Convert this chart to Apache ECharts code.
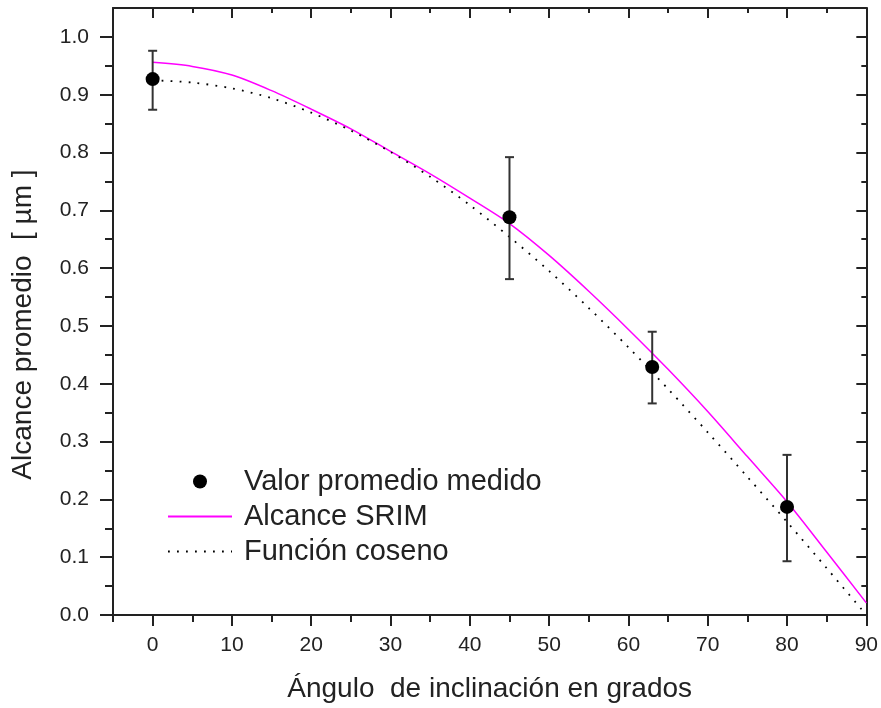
<!DOCTYPE html>
<html>
<head>
<meta charset="utf-8">
<script src="https://cdn.jsdelivr.net/npm/echarts@6/dist/echarts.min.js"></script>
<style>html,body{margin:0;padding:0;background:#fff;}#c{width:881px;height:708px;}</style>
</head>
<body>
<div id="c"></div>
<script>
// ---- data ----
const angles = [0, 45, 63, 80];
const measured = [0.927, 0.688, 0.429, 0.187];
const errLow = [0.874, 0.581, 0.366, 0.093];
const errHigh = [0.976, 0.792, 0.490, 0.277];

const curveAngles = [0, 5, 10, 15, 20, 25, 30, 35, 40, 45, 50, 55, 60, 65, 70, 75, 80, 85, 90];
const srim = [0.956, 0.949, 0.934, 0.907, 0.875, 0.841, 0.802, 0.763, 0.721, 0.677, 0.622, 0.560, 0.494, 0.425, 0.352, 0.274, 0.196, 0.109, 0.021];
const coseno = [0.925, 0.921, 0.911, 0.894, 0.869, 0.838, 0.801, 0.758, 0.709, 0.654, 0.595, 0.531, 0.463, 0.391, 0.316, 0.239, 0.161, 0.081, 0.0];

const xMajor = [0, 10, 20, 30, 40, 50, 60, 70, 80, 90];
const xMinor = [-5, 5, 15, 25, 35, 45, 55, 65, 75, 85];
const yMajor = [0, 0.1, 0.2, 0.3, 0.4, 0.5, 0.6, 0.7, 0.8, 0.9, 1.0];
const yMinor = [0.05, 0.15, 0.25, 0.35, 0.45, 0.55, 0.65, 0.75, 0.85, 0.95];

const names = ['Valor promedio medido', 'Alcance SRIM', 'Función coseno'];
const xTitle = 'Ángulo  de inclinación en grados';
const yTitle = 'Alcance promedio  [ µm ]';

// ---- chart ----
const AX = '#222';
const FONT = '"Liberation Sans", Arial, sans-serif';
const chart = echarts.init(document.getElementById('c'), null, {renderer: 'canvas'});

function xAx(pos, vals, len, inside, showLine, showLabel, name) {
  return {
    type: 'value', position: pos, min: -5, max: 90,
    name: name || '', nameLocation: 'middle', nameGap: 60, nameMoveOverlap: false,
    nameTextStyle: {fontFamily: FONT, fontSize: 28, color: AX},
    axisLine: {show: showLine, onZero: false, lineStyle: {color: AX, width: 2}},
    axisTick: {show: true, customValues: vals, length: len, inside: inside, lineStyle: {color: AX, width: 2}},
    axisLabel: {show: showLabel, customValues: vals, margin: 20, fontFamily: FONT, fontSize: 21, color: AX},
    splitLine: {show: false}
  };
}
function yAx(pos, vals, len, inside, showLine, showLabel, name) {
  return {
    type: 'value', position: pos, min: 0, max: 1.05,
    name: name || '', nameLocation: 'middle', nameGap: 76, nameMoveOverlap: false,
    nameTextStyle: {fontFamily: FONT, fontSize: 28, color: AX, padding: [0, 26, 0, 0]},
    axisLine: {show: showLine, onZero: false, lineStyle: {color: AX, width: 2}},
    axisTick: {show: true, customValues: vals, length: len, inside: inside, lineStyle: {color: AX, width: 2}},
    axisLabel: {show: showLabel, customValues: vals, margin: 24, fontFamily: FONT, fontSize: 21, color: AX,
      formatter: v => v.toFixed(1)},
    splitLine: {show: false}
  };
}

const option = {
  backgroundColor: '#fff',
  animation: false,
  grid: {left: 113, top: 8, width: 754, height: 608, containLabel: false},
  xAxis: [
    xAx('bottom', xMajor, 11, false, true, true, xTitle),
    xAx('bottom', xMinor, 7, false, false, false),
    xAx('top', xMajor, 10, true, true, false),
    xAx('top', xMinor, 5, true, false, false)
  ],
  yAxis: [
    yAx('left', yMajor, 13, false, true, true, yTitle),
    yAx('left', yMinor, 8, false, false, false),
    yAx('right', yMajor, 10, true, true, false),
    yAx('right', yMinor, 5, true, false, false)
  ],
  legend: {
    orient: 'vertical', left: 162, top: 462,
    itemWidth: 64, itemHeight: 14, itemGap: 6,
    data: [
      {name: names[0]},
      {name: names[1], itemStyle: {opacity: 0}},
      {name: names[2], itemStyle: {opacity: 0}}
    ],
    textStyle: {fontFamily: FONT, fontSize: 29, color: AX, padding: [0, 0, 0, 7]}
  },
  series: [
    {
      name: 'errbars', type: 'custom', xAxisIndex: 0, yAxisIndex: 0, z: 3,
      data: angles.map((a, i) => [a, errLow[i], errHigh[i]]),
      renderItem: function (params, api) {
        const lo = api.coord([api.value(0), api.value(1)]);
        const hi = api.coord([api.value(0), api.value(2)]);
        const cap = 4.5;
        const st = {stroke: '#333', lineWidth: 2};
        return {type: 'group', children: [
          {type: 'line', shape: {x1: lo[0], y1: lo[1], x2: hi[0], y2: hi[1]}, style: st},
          {type: 'line', shape: {x1: lo[0] - cap, y1: lo[1], x2: lo[0] + cap, y2: lo[1]}, style: st},
          {type: 'line', shape: {x1: hi[0] - cap, y1: hi[1], x2: hi[0] + cap, y2: hi[1]}, style: st}
        ]};
      }
    },
    {
      name: names[1], type: 'line', smooth: 0.3, symbol: 'none', z: 2,
      data: curveAngles.map((a, i) => [a, srim[i]]),
      lineStyle: {color: '#ff00ff', width: 1.5},
      itemStyle: {color: '#ff00ff'}
    },
    {
      name: names[2], type: 'line', smooth: 0.3, symbol: 'none', z: 2,
      data: curveAngles.map((a, i) => [a, coseno[i]]),
      lineStyle: {color: '#000', width: 1.8, type: [1.8, 7.2]},
      itemStyle: {color: '#000'}
    },
    {
      name: names[0], type: 'scatter', symbol: 'circle', symbolSize: 14, z: 4,
      data: angles.map((a, i) => [a, measured[i]]),
      itemStyle: {color: '#000', opacity: 1}
    }
  ]
};
chart.setOption(option);
</script>
</body>
</html>
